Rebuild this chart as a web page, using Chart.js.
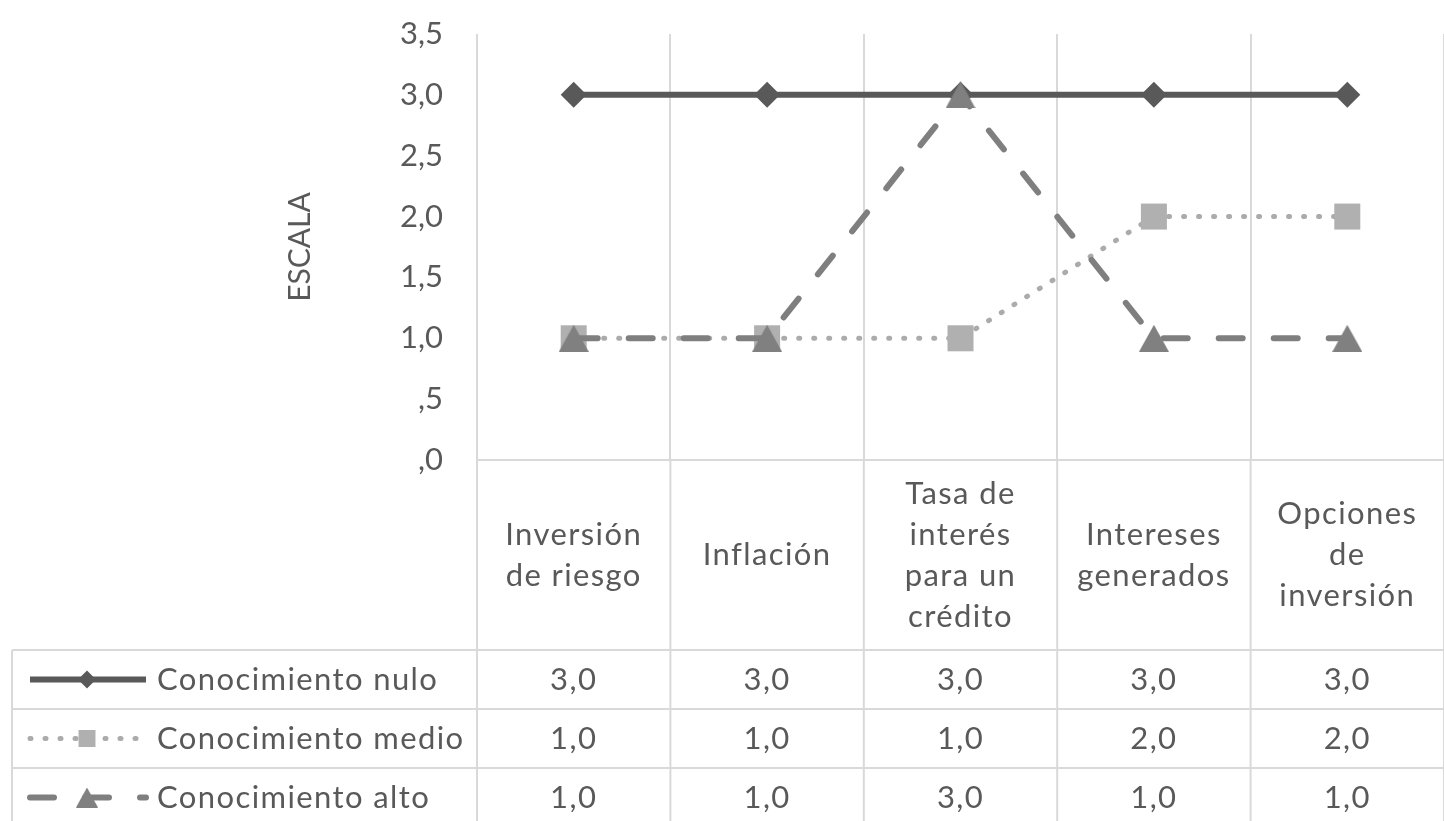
<!DOCTYPE html>
<html>
<head>
<meta charset="utf-8">
<script src="https://cdn.jsdelivr.net/npm/chart.js@4/dist/chart.umd.min.js"></script>
<style>
  html, body { margin: 0; padding: 0; background: #ffffff; overflow: hidden; }
  #wrap { width: 1444px; height: 821px; position: relative; }
</style>
</head>
<body>
<div id="wrap"><canvas id="chart" width="1444" height="821"></canvas></div>
<script>
// Categories (one array of lines per column header)
const categories = [
  ['Inversión', 'de riesgo'],
  ['Inflación'],
  ['Tasa de', 'interés', 'para un', 'crédito'],
  ['Intereses', 'generados'],
  ['Opciones', 'de', 'inversión']
];
const seriesNames = ['Conocimiento nulo', 'Conocimiento medio', 'Conocimiento alto'];
const nuloValues  = [3.0, 3.0, 3.0, 3.0, 3.0];
const medioValues = [1.0, 1.0, 1.0, 2.0, 2.0];
const altoValues  = [1.0, 1.0, 3.0, 1.0, 1.0];
const yMin = 0, yMax = 3.5, yStep = 0.5;
const yTitle = 'ESCALA';

const FONT = 'Lato, "Open Sans", sans-serif';
const TEXT = '#595959';
const GRID = '#d9d9d9';

// Spanish decimal format with the leading zero dropped (",5", "1,0")
function fmtTick(v) {
  const s = v.toFixed(1).replace('.', ',');
  return s.startsWith('0') ? s.slice(1) : s;
}
function fmtCell(v) { return v.toFixed(1).replace('.', ','); }

// Triangle marker centred on its bounding box
function triangleMarker(w, h, color) {
  const c = document.createElement('canvas');
  c.width = w; c.height = h;
  const g = c.getContext('2d');
  g.fillStyle = color;
  g.beginPath();
  g.moveTo(w / 2, 0);
  g.lineTo(w, h);
  g.lineTo(0, h);
  g.closePath();
  g.fill();
  return c;
}

const styles = [
  { color: '#595959', width: 6, dash: [], cap: 'butt', point: 'rectRot', radius: 13, pointColor: '#595959' },
  { color: '#ababab', width: 5, dash: [1, 14], cap: 'round', point: 'rect', radius: 18.4, pointColor: '#b0b0b0' },
  { color: '#7f7f7f', width: 6, dash: [24, 31], cap: 'round', point: triangleMarker(30, 27, '#808080'), radius: 15, pointColor: '#808080' }
];
const seriesValues = [nuloValues, medioValues, altoValues];

const datasets = seriesNames.map((name, i) => ({
  label: name,
  data: seriesValues[i],
  borderColor: styles[i].color,
  backgroundColor: styles[i].pointColor,
  borderWidth: styles[i].width,
  borderDash: styles[i].dash,
  borderCapStyle: styles[i].cap,
  pointStyle: styles[i].point,
  pointRadius: styles[i].radius,
  pointHoverRadius: styles[i].radius,
  pointBackgroundColor: styles[i].pointColor,
  pointBorderColor: styles[i].pointColor,
  pointBorderWidth: 0,
  tension: 0,
  fill: false,
  clip: false,
  order: 3 - i
}));

const PLOT_TOP = 34;       // top of the plotting area
const TABLE_TOP = 460;     // axis line / header row top
const HEADER_BOTTOM = 650; // first data row top
const ROW_H = 59;
const TABLE_LEFT = 12;

// Data table under the plot: header labels, legend keys and values
const dataTablePlugin = {
  id: 'dataTable',
  afterDraw(chart) {
    const ctx = chart.ctx;
    const xs = chart.scales.x;
    const W = chart.width, H = chart.height;
    const n = categories.length;
    const band = (xs.getPixelForValue(1) - xs.getPixelForValue(0));
    const edges = [];
    for (let i = 0; i <= n; i++) edges.push(xs.getPixelForValue(0) - band / 2 + i * band);

    ctx.save();
    ctx.strokeStyle = GRID;
    ctx.lineWidth = 2;
    // column separators through the table
    edges.forEach(x => {
      ctx.beginPath(); ctx.moveTo(x, TABLE_TOP); ctx.lineTo(x, H); ctx.stroke();
    });
    // left border of the legend column
    ctx.beginPath(); ctx.moveTo(TABLE_LEFT, HEADER_BOTTOM); ctx.lineTo(TABLE_LEFT, H); ctx.stroke();
    // row separators
    for (let r = 0; r < 3; r++) {
      const y = HEADER_BOTTOM + r * ROW_H;
      ctx.beginPath(); ctx.moveTo(TABLE_LEFT, y); ctx.lineTo(W, y); ctx.stroke();
    }

    // header labels
    ctx.fillStyle = TEXT;
    ctx.font = '31px ' + FONT;
    ctx.letterSpacing = '1.4px';
    ctx.textAlign = 'center';
    ctx.textBaseline = 'middle';
    const lh = 41;
    const midY = (TABLE_TOP + HEADER_BOTTOM) / 2;
    categories.forEach((lines, i) => {
      const cx = xs.getPixelForValue(i);
      const y0 = midY - (lines.length - 1) * lh / 2;
      lines.forEach((t, k) => ctx.fillText(t, cx, y0 + k * lh));
    });

    // value rows with legend keys
    seriesNames.forEach((name, r) => {
      const cy = HEADER_BOTTOM + r * ROW_H + ROW_H / 2;
      const st = styles[r];
      ctx.save();
      ctx.strokeStyle = st.color;
      ctx.lineWidth = st.width;
      ctx.setLineDash(st.dash);
      ctx.lineCap = st.cap;
      ctx.beginPath(); ctx.moveTo(30, cy); ctx.lineTo(146, cy); ctx.stroke();
      ctx.restore();
      ctx.save();
      ctx.fillStyle = st.pointColor;
      ctx.strokeStyle = st.pointColor;
      const legendRadius = r === 0 ? 9 : 12;
      let ps = st.point;
      if (r === 2) ps = triangleMarker(22, 20, st.pointColor);
      Chart.helpers.drawPoint(ctx, { pointStyle: ps, radius: legendRadius, rotation: 0, borderWidth: 0 }, 87, cy);
      ctx.restore();

      ctx.fillStyle = TEXT;
      ctx.textAlign = 'left';
      ctx.fillText(name, 157, cy);
      ctx.textAlign = 'center';
      seriesValues[r].forEach((v, i) => ctx.fillText(fmtCell(v), xs.getPixelForValue(i), cy));
    });
    ctx.restore();
  }
};

new Chart(document.getElementById('chart'), {
  type: 'line',
  data: { labels: categories.map(l => l.join(' ')), datasets },
  options: {
    responsive: false,
    maintainAspectRatio: false,
    devicePixelRatio: 1,
    animation: false,
    events: [],
    layout: { autoPadding: false, padding: { left: 282, top: PLOT_TOP, right: 0, bottom: 0 } },
    plugins: { legend: { display: false }, tooltip: { enabled: false } },
    scales: {
      x: {
        type: 'category',
        offset: true,
        grid: { display: true, offset: true, color: GRID, lineWidth: 2, drawTicks: false },
        border: { display: true, color: GRID, width: 2 },
        ticks: { display: false },
        afterFit(s) { s.height = 821 - TABLE_TOP; s.paddingTop = 0; s.paddingBottom = 0; }
      },
      y: {
        min: yMin, max: yMax,
        grid: { display: false, drawTicks: false },
        border: { display: false },
        ticks: {
          stepSize: yStep,
          padding: 34,
          color: TEXT,
          font: { family: FONT, size: 31 },
          callback: v => fmtTick(v)
        },
        title: {
          display: true, text: yTitle, color: TEXT,
          font: { family: FONT, size: 30 }, padding: 0
        },
        afterFit(s) { s.width = 477 - 282; s.paddingTop = 0; s.paddingBottom = 0; }
      }
    }
  },
  plugins: [dataTablePlugin]
});
</script>
</body>
</html>
